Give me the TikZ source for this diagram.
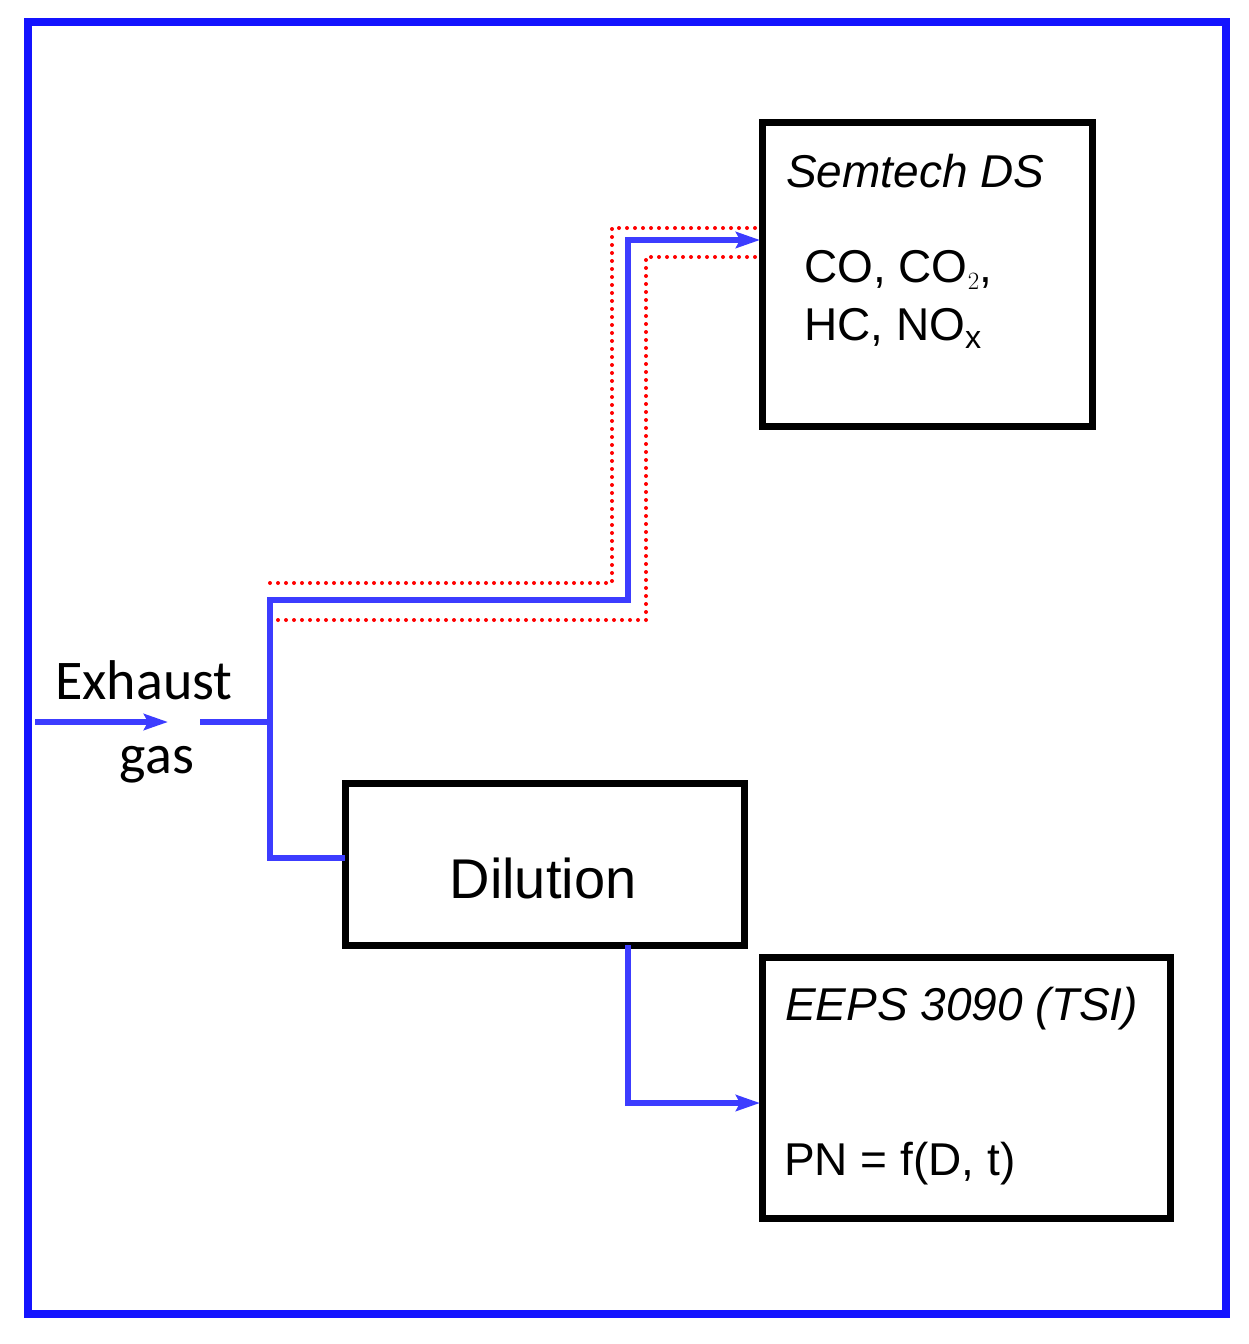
\documentclass[tikz,border=0pt]{standalone}
\usepackage{fontspec}
\setmainfont{Liberation Sans}
\newfontfamily\carlitofont{Carlito}
\usetikzlibrary{arrows.meta}
\definecolor{fb}{RGB}{20,20,255}
\definecolor{lb}{RGB}{60,60,255}
\begin{document}
\begin{tikzpicture}[x=1pt,y=-1pt,
  box/.style={draw=black,line width=7pt},
  pipe/.style={draw=lb,line width=6pt},
  arr/.style={pipe,-{Stealth[length=24pt,width=16pt,inset=4pt]}},
  dots/.style={draw=red,line width=4pt,dash pattern=on 0pt off 8pt,line cap=round},
  t/.style={inner sep=0pt,anchor=base west}]
\useasboundingbox (0,0) rectangle (1248,1344);
\draw[fb,line width=8pt] (28,22) rectangle (1226,1314);
\draw[box] (762,122) rectangle (1092,426);
\draw[box] (345,783) rectangle (744,945);
\draw[box] (762,957) rectangle (1170,1218);
\node[t,font=\itshape\fontsize{46}{50}\selectfont] (sem) at (786,187) {Semtech DS};
\node[t,font=\fontsize{46}{50}\selectfont] (co) at (804,282) {CO, CO$_2$,};
\node[t,font=\fontsize{46}{50}\selectfont] (hc) at (804,340) {HC, NO$_\mathrm{x}$};
\node[inner sep=0pt,font=\fontsize{56}{60}\selectfont] (dil) at (543,878) {Dilution};
\node[t,font=\itshape\fontsize{46}{50}\selectfont] (ee) at (785,1020) {EEPS 3090 (TSI)};
\node[t,font=\fontsize{46}{50}\selectfont] (pn) at (784,1175) {PN = f(D, t)};
\node[t,font=\carlitofont\fontsize{56}{60}\selectfont] (ex) at (55,699) {Exhaust};
\node[inner sep=0pt,anchor=base,font=\carlitofont\fontsize{56}{60}\selectfont] (gas) at (157,773) {gas};
\coordinate (in0) at (35,722); \coordinate (in1) at (168,722);
\coordinate (j0) at (200,722); \coordinate (j1) at (270,722);
\draw[dots] (270,583) -- (612,583) -- (612,228) -- (758,228);
\draw[dots] (270,620) -- (646,620) -- (646,257) -- (758,257);
\draw[arr] (in0) -- (in1);
\draw[pipe] (j0) -- (j1);
\draw[pipe] (270,858) -- (270,600);
\draw[pipe] (267,858) -- (345,858);
\draw[arr] (267,600) -- (628,600) -- (628,240) -- (760,240);
\draw[arr] (628,945) -- (628,1103) -- (760,1103);
\end{tikzpicture}
\end{document}
